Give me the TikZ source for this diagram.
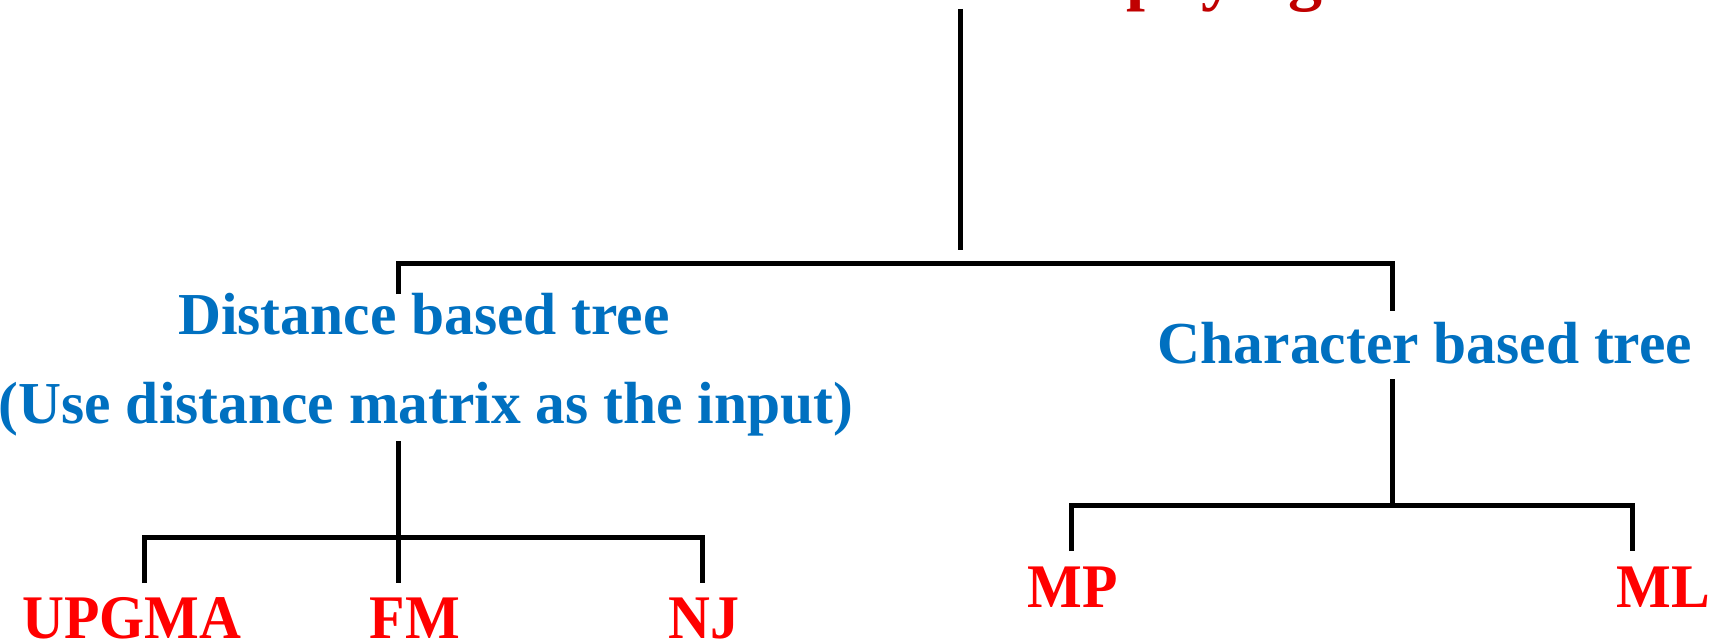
\documentclass[tikz,border=0pt]{standalone}
\usepackage{fontspec}
\setmainfont{Liberation Serif}
\newfontfamily\narrowserif[FakeStretch=0.935]{Liberation Serif}
\definecolor{methodblue}{HTML}{0070C0}
\definecolor{leafred}{HTML}{FF0000}
\definecolor{titlered}{HTML}{C00000}
\begin{document}
\begin{tikzpicture}[x=1pt,y=-1pt,
  branch/.style={line width=5pt, line join=miter, line cap=butt},
  group/.style={anchor=base, inner sep=0pt, text=methodblue, font=\fontsize{59.5}{60}\selectfont\bfseries},
  leaf/.style={anchor=base, inner sep=0pt, text=leafred, font=\narrowserif\fontsize{62}{62}\selectfont\bfseries},
  heading/.style={anchor=base west, inner sep=0pt, text=titlered, font=\fontsize{68}{68}\selectfont\bfseries}]
\useasboundingbox (0,0) rectangle (1721,642);
\clip (0,0) rectangle (1721,642);

% title, running off the top edge
\node[heading] (title) at (1126,-2.5) {phylogenetic};

% group labels
\node[group] (dist)   at (424,334)  {Distance based tree};
\node[group] (distin) at (426,423)  {(Use distance matrix as the input)};
\node[group] (char)   at (1425,363) {Character based tree};

% methods
\node[leaf] (upgma) at (132,638)  {UPGMA};
\node[leaf] (fm)    at (415,638)  {FM};
\node[leaf] (nj)    at (704,638)  {NJ};
\node[leaf] (mp)    at (1073,607) {MP};
\node[leaf] (ml)    at (1663,607) {ML};

% tree skeleton
\coordinate (rootTop) at (960,9);
\coordinate (rootEnd) at (960,250);
\coordinate (barL)  at (398,263);
\coordinate (barR)  at (1392,263);
\coordinate (dropL) at (398,294);
\coordinate (dropR) at (1392,311);

\coordinate (distStem) at (398,441);
\coordinate (distJoin) at (398,537);
\coordinate (dbarL) at (144,537);
\coordinate (dbarR) at (702,537);
\coordinate (upgmaTip) at (144,583);
\coordinate (fmTip)    at (398,583);
\coordinate (njTip)    at (702,583);

\coordinate (charStem) at (1392,379);
\coordinate (charJoin) at (1392,505);
\coordinate (cbarL) at (1071,505);
\coordinate (cbarR) at (1632,505);
\coordinate (mpTip) at (1071,551);
\coordinate (mlTip) at (1632,551);

\draw[branch] (rootTop) -- (rootEnd);
\draw[branch] (dropL) -- (barL) -- (barR) -- (dropR);

\draw[branch] (distStem) -- (distJoin);
\draw[branch] (upgmaTip) -- (dbarL) -- (dbarR) -- (njTip);
\draw[branch] (distJoin) -- (fmTip);

\draw[branch] (charStem) -- (charJoin);
\draw[branch] (mpTip) -- (cbarL) -- (cbarR) -- (mlTip);
\end{tikzpicture}
\end{document}
